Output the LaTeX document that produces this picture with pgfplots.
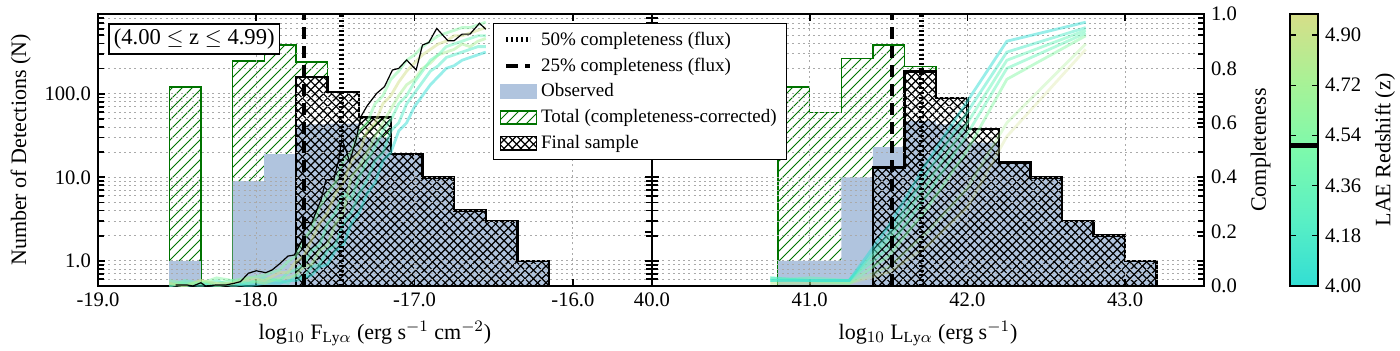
\documentclass[border=0pt]{standalone}
\usepackage{fontspec}
\setmainfont{Liberation Serif}
\usepackage{pgfplots}
\usepackage{pgfplotstable}
\pgfplotsset{compat=1.18}
\usetikzlibrary{patterns}

\pgfdeclarepatternformonly{mylines}{\pgfqpoint{-1pt}{-1pt}}{\pgfqpoint{6pt}{6pt}}{\pgfqpoint{5pt}{5pt}}{%
  \pgfsetlinewidth{0.5pt}\pgfpathmoveto{\pgfqpoint{0pt}{0pt}}\pgfpathlineto{\pgfqpoint{5.1pt}{5.1pt}}\pgfusepath{stroke}}
\pgfdeclarepatternformonly{mycross}{\pgfqpoint{-1pt}{-1pt}}{\pgfqpoint{5.2pt}{5.2pt}}{\pgfqpoint{4.2pt}{4.2pt}}{%
  \pgfsetlinewidth{0.6pt}\pgfpathmoveto{\pgfqpoint{0pt}{0pt}}\pgfpathlineto{\pgfqpoint{4.3pt}{4.3pt}}%
  \pgfpathmoveto{\pgfqpoint{0pt}{4.2pt}}\pgfpathlineto{\pgfqpoint{4.3pt}{-0.1pt}}\pgfusepath{stroke}}

\definecolor{obsblue}{RGB}{176,196,222}
\definecolor{totgreen}{RGB}{0,115,0}
\definecolor{zA}{RGB}{50,222,212}
\definecolor{zB}{RGB}{80,236,200}
\definecolor{zC}{RGB}{105,246,185}
\definecolor{zD}{RGB}{135,248,165}
\definecolor{zE}{RGB}{170,240,150}
\definecolor{zF}{RGB}{210,224,138}
\definecolor{gridgray}{RGB}{170,170,170}

\pgfplotstableread{
x c1 c2 c3 c4 c5 c6
-18.55 0.01 0.00 0.01 0.00 0.01 0.02
-18.45 0.00 0.01 0.00 0.02 0.00 0.01
-18.35 0.01 0.00 0.02 0.01 0.02 0.01
-18.25 0.00 0.02 0.00 0.01 0.01 0.03
-18.15 0.01 0.00 0.01 0.02 0.01 0.02
-18.05 0.00 0.01 0.02 0.01 0.03 0.03
-17.95 0.01 0.02 0.01 0.03 0.02 0.04
-17.85 0.01 0.02 0.03 0.02 0.05 0.06
-17.80 0.02 0.01 0.03 0.05 0.05 0.09
-17.75 0.02 0.04 0.04 0.06 0.09 0.11
-17.70 0.03 0.03 0.07 0.08 0.11 0.17
-17.65 0.04 0.07 0.08 0.13 0.17 0.21
-17.60 0.07 0.08 0.13 0.15 0.23 0.29
-17.55 0.08 0.13 0.15 0.23 0.27 0.34
-17.50 0.13 0.15 0.23 0.27 0.34 0.38
-17.45 0.15 0.23 0.27 0.34 0.38 0.46
-17.40 0.23 0.27 0.40 0.32 0.46 0.49
-17.35 0.27 0.34 0.44 0.40 0.49 0.57
-17.30 0.34 0.39 0.49 0.46 0.57 0.60
-17.25 0.38 0.46 0.55 0.51 0.60 0.67
-17.20 0.46 0.49 0.60 0.57 0.67 0.70
-17.15 0.49 0.57 0.65 0.61 0.70 0.76
-17.10 0.57 0.60 0.70 0.67 0.75 0.79
-17.05 0.60 0.67 0.74 0.70 0.79 0.83
-17.00 0.66 0.71 0.76 0.75 0.82 0.85
-16.95 0.70 0.75 0.80 0.79 0.85 0.88
-16.90 0.74 0.79 0.82 0.83 0.87 0.90
-16.85 0.77 0.81 0.85 0.85 0.89 0.92
-16.80 0.80 0.84 0.86 0.88 0.90 0.93
-16.75 0.81 0.85 0.87 0.89 0.92 0.94
-16.70 0.83 0.86 0.89 0.90 0.92 0.95
-16.65 0.84 0.87 0.88 0.91 0.93 0.95
-16.60 0.85 0.88 0.90 0.92 0.94 0.96
-16.55 0.86 0.88 0.91 0.92 0.95 0.97
}\leftcomp

\pgfplotstableread{
x y
-18.51 0.004
-18.44 0.004
-18.40 0.000
-18.35 0.012
-18.32 0.000
-18.25 0.004
-18.19 0.004
-18.14 0.010
-18.10 0.016
-18.05 0.047
-18.00 0.056
-17.94 0.049
-17.90 0.059
-17.85 0.083
-17.80 0.110
-17.76 0.114
-17.71 0.169
-17.69 0.233
-17.65 0.233
-17.59 0.319
-17.56 0.390
-17.51 0.392
-17.48 0.463
-17.46 0.537
-17.44 0.512
-17.41 0.457
-17.37 0.537
-17.34 0.622
-17.30 0.662
-17.24 0.708
-17.19 0.733
-17.14 0.794
-17.10 0.800
-17.05 0.831
-16.99 0.794
-16.95 0.886
-16.91 0.895
-16.86 0.947
-16.79 0.902
-16.75 0.902
-16.70 0.926
-16.65 0.926
-16.59 0.966
-16.55 0.944
}\leftblack

\pgfplotstableread{
x r1 r2 r3 r4 r5 r6 r7
40.75 0.02 0.03 0.02 0.03 0.02 0.01 0.01
41.00 0.02 0.02 0.03 0.02 0.02 0.01 0.01
41.25 0.02 0.02 0.02 0.02 0.01 0.01 0.01
41.50 0.22 0.19 0.17 0.14 0.11 0.07 0.05
41.75 0.46 0.42 0.38 0.34 0.29 0.20 0.15
42.00 0.68 0.64 0.60 0.56 0.50 0.36 0.29
42.25 0.90 0.86 0.83 0.80 0.76 0.60 0.55
42.75 0.97 0.95 0.94 0.93 0.92 0.89 0.87
}\rightcomp

\newcommand{\tickfont}{\fontsize{10.3}{12}\selectfont}
\newcommand{\labfont}{\fontsize{11}{13}\selectfont}

\tikzset{
  hatchtot/.style={draw=totgreen, line width=0.7pt, pattern=mylines, pattern color=totgreen},
  whitefill/.style={fill=white, draw=none},
  obsfill/.style={fill=obsblue, draw=none},
  finalhatch/.style={draw=black, line width=1.3pt, pattern=mycross, pattern color=black},
  dline/.style={black, line width=2pt, dash pattern=on 6pt off 3.5pt},
  tline/.style={black, line width=2.4pt, dash pattern=on 1pt off 1.4pt},
  cline/.style={line width=1.4pt, opacity=0.5},
}
\pgfplotsset{
  lineleg/.style={legend image code/.code={\draw[##1] (3pt,0pt) -- (15pt,0pt);}},
  boxleg/.style={legend image code/.code={\draw[##1] (0pt,-3.3pt) rectangle (18pt,3.3pt);}},
}

\begin{document}
\begin{tikzpicture}
\path[use as bounding box] (-49pt,-32pt) rectangle (651pt,143pt);

% ---------------- left histogram axis ----------------
\begin{axis}[at={(0pt,0pt)}, anchor=south west,
  scale only axis, width=277pt, height=136pt,
  axis line style={line width=1.2pt},
  tick style={line width=0.9pt, black},
  major tick length=3.5pt, minor tick length=3pt,
  tick label style={font=\tickfont},
  label style={font=\labfont},
  ymode=log, ymin=0.5, ymax=900,
  ytick={1,10,100}, yticklabels={1.0,10.0,100.0},
  minor ytick={0.6,0.7,0.8,0.9,2,3,4,5,6,7,8,9,20,30,40,50,60,70,80,90,200,300,400,500,600,700,800,900},
  xmajorgrids, ymajorgrids, yminorgrids,
  major grid style={gridgray, line width=0.45pt, dash pattern=on 1pt off 1.6pt},
  minor grid style={gridgray, line width=0.45pt, dash pattern=on 1pt off 1.6pt},
  axis on top,
  xmin=-19, xmax=-15.5,
  xtick={-19,-18,-17,-16}, xticklabels={-19.0,-18.0,-17.0,-16.0},
  ylabel={Number of Detections (N)},
  xlabel={log$_{10}$ F$_{\mathrm{Ly}\alpha}$ (erg s$^{-1}$ cm$^{-2}$)}]
\addplot[hatchtot] coordinates {(-18.55,0.5) (-18.55,121) (-18.35,121) (-18.35,0.5)} -- cycle;
\addplot[hatchtot] coordinates {(-18.15,0.5) (-18.15,247) (-17.95,247) (-17.95,383) (-17.75,383) (-17.75,240) (-17.55,240) (-17.55,105) (-17.35,105) (-17.35,52) (-17.15,52) (-17.15,19) (-16.95,19) (-16.95,10) (-16.75,10) (-16.75,4) (-16.55,4) (-16.55,3) (-16.35,3) (-16.35,1) (-16.15,1) (-16.15,0.5)} -- cycle;
\addplot[whitefill] coordinates {(-17.75,0.5) (-17.75,159) (-17.55,159) (-17.55,105) (-17.35,105) (-17.35,0.5)} -- cycle;
\addplot[obsfill] coordinates {(-18.55,0.5) (-18.55,1) (-18.35,1) (-18.35,0.5)} -- cycle;
\addplot[obsfill] coordinates {(-18.15,0.5) (-18.15,9) (-17.95,9) (-17.95,19) (-17.75,19) (-17.75,43) (-17.55,43) (-17.55,44) (-17.35,44) (-17.35,30) (-17.15,30) (-17.15,19) (-16.95,19) (-16.95,10) (-16.75,10) (-16.75,4) (-16.55,4) (-16.55,3) (-16.35,3) (-16.35,1) (-16.15,1) (-16.15,0.5)} -- cycle;
\addplot[finalhatch] coordinates {(-17.75,0.5) (-17.75,159) (-17.55,159) (-17.55,105) (-17.35,105) (-17.35,52) (-17.15,52) (-17.15,19) (-16.95,19) (-16.95,10) (-16.75,10) (-16.75,4) (-16.55,4) (-16.55,3) (-16.35,3) (-16.35,1) (-16.15,1) (-16.15,0.5)} -- cycle;
\end{axis}

% ---------------- left completeness axis ----------------
\begin{axis}[at={(0pt,0pt)}, anchor=south west,
  scale only axis, width=277pt, height=136pt,
  axis line style={line width=1.2pt},
  tick style={line width=0.9pt, black},
  major tick length=3.5pt,
  tick label style={font=\tickfont},
  ymin=0, ymax=1, axis x line=none, axis y line*=right,
  ytick={0,0.2,0.4,0.6,0.8,1}, yticklabels={},
  xmin=-19, xmax=-15.5]
\addplot[cline, zA] table[x=x,y=c1] {\leftcomp};
\addplot[cline, zB] table[x=x,y=c2] {\leftcomp};
\addplot[cline, zE] table[x=x,y=c3] {\leftcomp};
\addplot[cline, zC] table[x=x,y=c4] {\leftcomp};
\addplot[cline, zF] table[x=x,y=c5] {\leftcomp};
\addplot[cline, zD] table[x=x,y=c6] {\leftcomp};
\addplot[black, line width=0.6pt] table[x=x,y=y] {\leftblack};
\addplot[dline] coordinates {(-17.70,0) (-17.70,1)};
\addplot[tline] coordinates {(-17.46,0) (-17.46,1)};
\end{axis}

% ---------------- right histogram axis ----------------
\begin{axis}[at={(277pt,0pt)}, anchor=south west,
  scale only axis, width=276pt, height=136pt,
  axis line style={line width=1.2pt},
  tick style={line width=0.9pt, black},
  major tick length=3.5pt, minor tick length=3pt,
  tick label style={font=\tickfont},
  label style={font=\labfont},
  ymode=log, ymin=0.5, ymax=900,
  ytick={1,10,100}, yticklabels={},
  minor ytick={0.6,0.7,0.8,0.9,2,3,4,5,6,7,8,9,20,30,40,50,60,70,80,90,200,300,400,500,600,700,800,900},
  xmajorgrids, ymajorgrids, yminorgrids,
  major grid style={gridgray, line width=0.45pt, dash pattern=on 1pt off 1.6pt},
  minor grid style={gridgray, line width=0.45pt, dash pattern=on 1pt off 1.6pt},
  axis on top,
  xmin=40, xmax=43.5,
  xtick={40,41,42,43}, xticklabels={40.0,41.0,42.0,43.0},
  xlabel={log$_{10}$ L$_{\mathrm{Ly}\alpha}$ (erg s$^{-1}$)}]
\addplot[hatchtot] coordinates {(40.8,0.5) (40.8,121) (41.0,121) (41.0,60) (41.2,60) (41.2,266) (41.4,266) (41.4,383) (41.6,383) (41.6,211) (41.8,211) (41.8,89) (42.0,89) (42.0,38) (42.2,38) (42.2,15) (42.4,15) (42.4,10) (42.6,10) (42.6,3) (42.8,3) (42.8,2) (43.0,2) (43.0,1) (43.2,1) (43.2,0.5)} -- cycle;
\addplot[whitefill] coordinates {(41.4,0.5) (41.4,13) (41.6,13) (41.6,184) (41.8,184) (41.8,89) (42.0,89) (42.0,38) (42.2,38) (42.2,15) (42.4,15) (42.4,10) (42.6,10) (42.6,3) (42.8,3) (42.8,2) (43.0,2) (43.0,1) (43.2,1) (43.2,0.5)} -- cycle;
\addplot[obsfill] coordinates {(40.8,0.5) (40.8,1) (41.2,1) (41.2,10) (41.4,10) (41.4,23) (41.6,23) (41.6,47) (41.8,47) (41.8,43) (42.0,43) (42.0,26) (42.2,26) (42.2,15) (42.4,15) (42.4,10) (42.6,10) (42.6,3) (42.8,3) (42.8,2) (43.0,2) (43.0,1) (43.2,1) (43.2,0.5)} -- cycle;
\addplot[finalhatch] coordinates {(41.4,0.5) (41.4,13) (41.6,13) (41.6,184) (41.8,184) (41.8,89) (42.0,89) (42.0,38) (42.2,38) (42.2,15) (42.4,15) (42.4,10) (42.6,10) (42.6,3) (42.8,3) (42.8,2) (43.0,2) (43.0,1) (43.2,1) (43.2,0.5)} -- cycle;
\end{axis}

% ---------------- right completeness axis + colorbar ----------------
\begin{axis}[at={(277pt,0pt)}, anchor=south west,
  scale only axis, width=276pt, height=136pt,
  axis line style={line width=1.2pt},
  tick style={line width=0.9pt, black},
  major tick length=3.5pt,
  tick label style={font=\tickfont},
  label style={font=\labfont},
  ymin=0, ymax=1, axis x line=none, axis y line*=right,
  ytick={0,0.2,0.4,0.6,0.8,1},
  yticklabels={0.0,0.2,0.4,0.6,0.8,1.0},
  ylabel={Completeness},
  xmin=40, xmax=43.5,
  colormap={lae}{rgb255(0cm)=(50,222,212); rgb255(1cm)=(90,240,196); rgb255(2cm)=(125,250,172); rgb255(3cm)=(168,242,150); rgb255(4cm)=(214,222,136)},
  point meta min=4, point meta max=4.975,
  colorbar,
  colorbar style={
    at={(parent axis.north east)}, anchor=north west, xshift=34.5pt,
    scale only axis, width=14pt, height=136pt,
    ytick={4.00,4.18,4.36,4.54,4.72,4.90},
    yticklabels={4.00,4.18,4.36,4.54,4.72,4.90},
    tick label style={font=\tickfont},
    ylabel={LAE Redshift (z)}, ylabel style={font=\labfont},
    axis line style={line width=0.6pt},
    major tick length=3pt,
    tick style={line width=0.6pt, black},
    extra y ticks={4.505}, extra y tick labels={},
    extra y tick style={grid=major, major grid style={black, line width=2.6pt, solid}, major tick length=0pt},
  }]
\addplot[cline, zF, opacity=0.3] table[x=x,y=r7] {\rightcomp};
\addplot[cline, zE, opacity=0.35] table[x=x,y=r6] {\rightcomp};
\addplot[cline, zD] table[x=x,y=r5] {\rightcomp};
\addplot[cline, zC] table[x=x,y=r4] {\rightcomp};
\addplot[cline, zC] table[x=x,y=r3] {\rightcomp};
\addplot[cline, zB] table[x=x,y=r2] {\rightcomp};
\addplot[cline, zA] table[x=x,y=r1] {\rightcomp};
\addplot[dline] coordinates {(41.52,0) (41.52,1)};
\addplot[tline] coordinates {(41.71,0) (41.71,1)};
\end{axis}

% ---------------- legend overlay ----------------
\begin{axis}[scale only axis, width=277pt, height=136pt, at={(0pt,0pt)}, anchor=south west,
  hide axis, xmin=0, xmax=1, ymin=0, ymax=1,
  legend cell align=left,
  legend style={at={(0.713,0.967)}, anchor=north west, draw=black, line width=0.7pt,
    fill=white, font=\fontsize{9.5}{11}\selectfont, inner xsep=3pt, inner ysep=2pt, row sep=0.8pt}]
\addlegendimage{lineleg, tline}
\addlegendentry{50\% completeness (flux)}
\addlegendimage{lineleg, dline}
\addlegendentry{25\% completeness (flux)}
\addlegendimage{boxleg, fill=obsblue, draw=obsblue}
\addlegendentry{Observed}
\addlegendimage{boxleg, draw=totgreen, line width=0.7pt, pattern=mylines, pattern color=totgreen}
\addlegendentry{Total (completeness-corrected)}
\addlegendimage{boxleg, draw=black, line width=0.7pt, pattern=mycross, pattern color=black}
\addlegendentry{Final sample}
\node[draw=black, line width=0.8pt, fill=white, anchor=north west, inner sep=2.5pt,
  font=\fontsize{11.3}{13}\selectfont] at (rel axis cs:0.018,0.967) {(4.00 $\leq$ z $\leq$ 4.99)};
\end{axis}
\end{tikzpicture}
\end{document}
